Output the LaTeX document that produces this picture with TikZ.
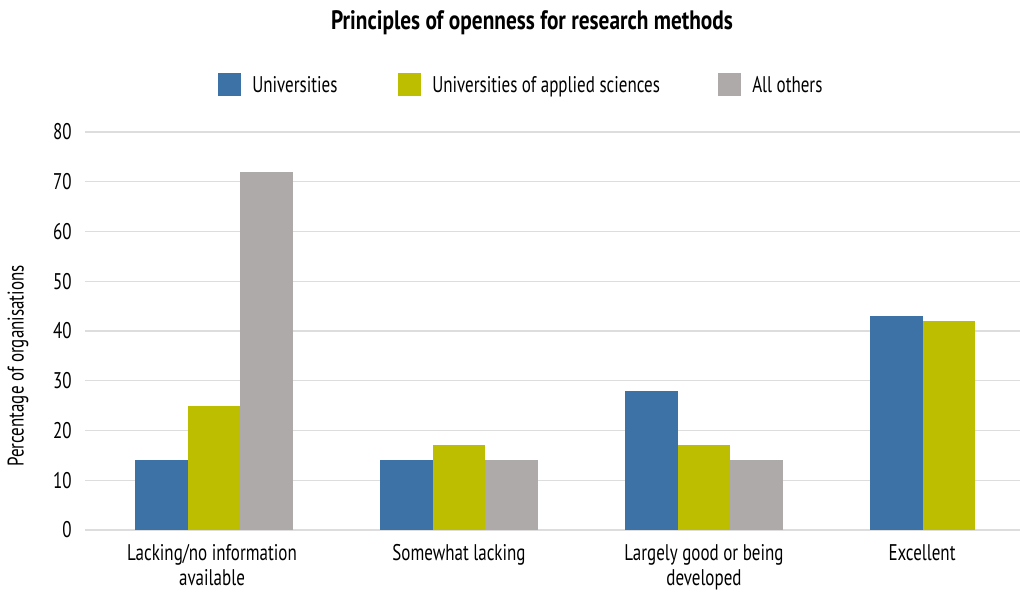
\documentclass[tikz,border=0pt]{standalone}
\usepackage{fontspec}
\setmainfont[FakeStretch=0.75]{PT Sans}
\newfontfamily\titlefont[FakeStretch=0.8]{PT Sans}
\definecolor{cblue}{HTML}{3C72A6}
\definecolor{cyel}{HTML}{BDBE00}
\definecolor{cgrey}{HTML}{AEAAAA}
\definecolor{cgrid}{HTML}{DDDDDD}
\tikzset{
  grid line/.style={draw=cgrid, line width=1.1pt},
  tick/.style={anchor=east, font=\fontsize{17}{19}\selectfont, inner sep=0pt},
  cat/.style={anchor=north, font=\fontsize{17}{18.75}\selectfont, align=center, inner sep=0pt},
  leg/.style={anchor=base west, font=\fontsize{17}{19}\selectfont, inner sep=0pt},
  legbox/.style={minimum width=17pt, minimum height=17pt, inner sep=0pt},
}
\begin{document}
\begin{tikzpicture}[x=0.75pt, y=-0.75pt]
\useasboundingbox[fill=white] (0,0) rectangle (1020,592);
% title
\node[font=\titlefont\bfseries\fontsize{20}{22}\selectfont] (title) at (532,23) {Principles of openness for research methods};
% legend
\node[legbox, fill=cblue] (lb1) at (229.5,84.5) {};
\node[leg] (lt1) at (252,93) {Universities};
\node[legbox, fill=cyel] (lb2) at (409.5,84.5) {};
\node[leg] (lt2) at (432,93) {Universities of applied sciences};
\node[legbox, fill=cgrey] (lb3) at (729.5,84.5) {};
\node[leg] (lt3) at (752,93) {All others};
% grid and ticks
\foreach \v in {0,10,...,80} {
  \draw[grid line] (85,{530-4.975*\v}) -- (1020,{530-4.975*\v});
  \node[tick] (t\v) at (72,{530-4.975*\v}) {\v};
}
% axis title
\node[rotate=90, font=\fontsize{17}{19}\selectfont] (ytitle) at (18,366) {Percentage of organisations};
% bars
\newcommand{\barw}{52.5}
\foreach \c/\a/\b/\d [count=\i] in {214/14/25/72, 459/14/17/14, 704/28/17/14, 949/43/42/0} {
  \fill[cblue] ({\c-1.5*\barw},530) rectangle ({\c-0.5*\barw},{530-4.975*\a});
  \fill[cyel] ({\c-0.5*\barw},530) rectangle ({\c+0.5*\barw},{530-4.975*\b});
  \ifnum\d>0
  \fill[cgrey] ({\c+0.5*\barw},530) rectangle ({\c+1.5*\barw},{530-4.975*\d});
  \fi
}
% category labels
\node[cat] (c1) at (212,544) {Lacking/no information\\available};
\node[cat] (c2) at (459,544) {Somewhat lacking};
\node[cat] (c3) at (704,544) {Largely good or being\\developed};
\node[cat] (c4) at (922,544) {Excellent};
\end{tikzpicture}
\end{document}
